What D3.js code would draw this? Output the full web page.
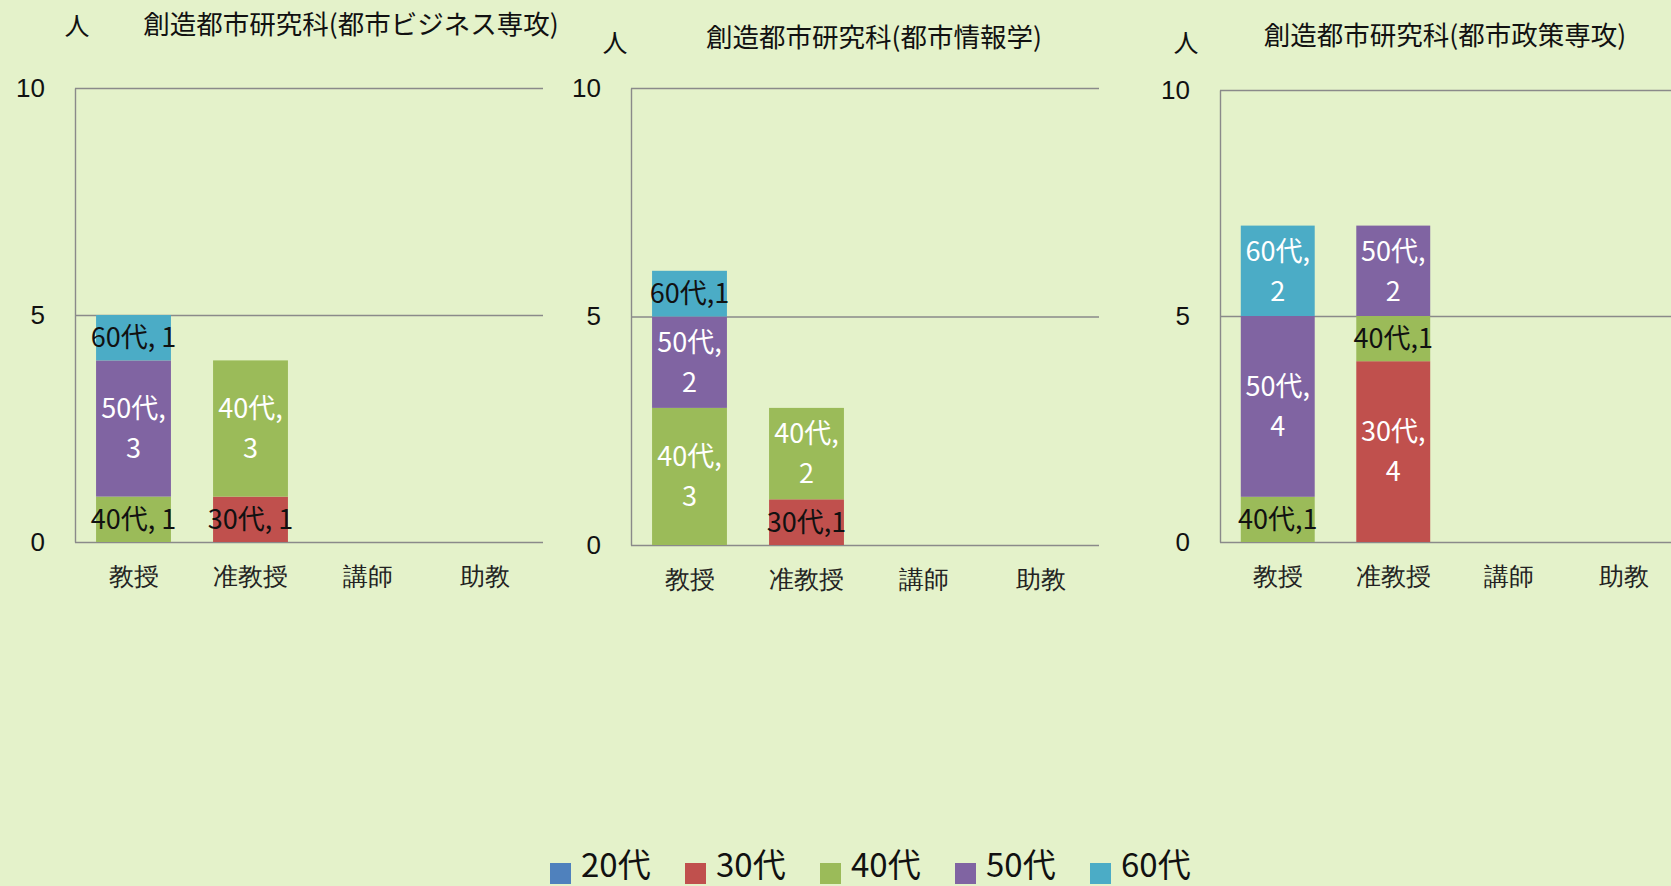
<!DOCTYPE html>
<html>
<head>
<meta charset="utf-8">
<script src="https://cdn.jsdelivr.net/npm/d3@7/dist/d3.min.js"></script>
<style>
  html, body { margin: 0; padding: 0; background: #e4f2ca; overflow: hidden; }
  svg { display: block; font-family: "Noto Sans CJK JP", "Noto Sans", sans-serif; }
  .grid line { stroke: #8a8a8a; stroke-width: 1.4; }
  .grid path { stroke: #8a8a8a; stroke-width: 1.4; }
  .grid text { font-size: 26px; fill: #111; }
  .cats text { font-size: 25px; fill: #222; }
  .title { font-size: 26.5px; fill: #111; }
  .unit { font-size: 25px; fill: #111; }
  .lbl { font-size: 27px; }
  .legend text { font-size: 33px; fill: #111; }
</style>
</head>
<body>
<div id="chart"></div>
<script>
// categories and series
var ranks = ["教授", "准教授", "講師", "助教"];
var ages = ["20代", "30代", "40代", "50代", "60代"];
var colors = ["#4f81bd", "#c0504d", "#9bbb59", "#8064a2", "#4bacc6"];
var yTicks = [0, 5, 10];

var titles = ["創造都市研究科(都市ビジネス専攻)", "創造都市研究科(都市情報学)", "創造都市研究科(都市政策専攻)"];

// counts per rank (rows) by age group (cols 20代..60代)
var businessCounts = [[0, 0, 1, 3, 1], [0, 1, 3, 0, 0], [0, 0, 0, 0, 0], [0, 0, 0, 0, 0]];
var infoCounts     = [[0, 0, 3, 2, 1], [0, 1, 2, 0, 0], [0, 0, 0, 0, 0], [0, 0, 0, 0, 0]];
var policyCounts   = [[0, 0, 1, 4, 2], [0, 4, 1, 2, 0], [0, 0, 0, 0, 0], [0, 0, 0, 0, 0]];
var labelSeps = [", ", ",", ","];

var allCounts = [businessCounts, infoCounts, policyCounts];

// layout of the three panels
var panels = [
  {x0: 75,   w: 468, top: 88, base: 542, titleX: 351,  titleY: 24, unitX: 77,   unitY: 26},
  {x0: 631,  w: 468, top: 88, base: 545, titleX: 874,  titleY: 37, unitX: 615,  unitY: 43},
  {x0: 1220, w: 462, top: 90, base: 542, titleX: 1445, titleY: 35, unitX: 1186, unitY: 43}
];

var svg = d3.select("#chart").append("svg")
  .attr("width", 1671)
  .attr("height", 886);

svg.append("rect").attr("width", 1671).attr("height", 886).attr("fill", "#e4f2ca");

panels.forEach(function(p, i) {
  var counts = allCounts[i];
  var rows = counts.map(function(r, j) {
    var o = {rank: ranks[j]};
    ages.forEach(function(a, k) { o[a] = r[k]; });
    return o;
  });

  var x = d3.scaleBand()
    .domain(ranks)
    .range([p.x0, p.x0 + p.w])
    .paddingInner(0.36)
    .paddingOuter(0.18);

  var y = d3.scaleLinear()
    .domain([0, 10])
    .range([p.base, p.top]);

  // gridlines + left axis
  var g = svg.append("g")
    .attr("class", "grid")
    .attr("transform", `translate(${p.x0},0)`)
    .call(d3.axisLeft(y).tickValues(yTicks).tickSize(-p.w).tickSizeOuter(0).tickPadding(30));
  g.selectAll(".tick line").attr("x1", 0);

  // category labels
  var c = svg.append("g")
    .attr("class", "cats")
    .attr("transform", `translate(0,${p.base})`)
    .call(d3.axisBottom(x).tickSize(0).tickPadding(25));
  c.select(".domain").remove();

  // stacked bars
  var stacked = d3.stack().keys(ages)(rows);
  stacked.forEach(function(layer, k) {
    svg.append("g")
      .attr("fill", colors[k])
      .selectAll("rect")
      .data(layer.filter(function(d) { return d[1] - d[0] > 0; }))
      .enter()
      .append("rect")
      .attr("x", function(d) { return x(d.data.rank); })
      .attr("y", function(d) { return y(d[1]); })
      .attr("width", x.bandwidth())
      .attr("height", function(d) { return y(d[0]) - y(d[1]); });

    // data labels
    layer.forEach(function(d) {
      var v = d[1] - d[0];
      if (v <= 0) return;
      var cx = x(d.data.rank) + x.bandwidth() / 2;
      var cy = y((d[0] + d[1]) / 2);
      var t = svg.append("text")
        .attr("class", "lbl")
        .attr("text-anchor", "middle")
        .attr("x", cx);
      if (v === 1) {
        t.attr("y", cy).attr("dy", "0.36em").attr("fill", "#111")
          .text(ages[k] + labelSeps[i] + v);
      } else {
        t.attr("fill", "#fff");
        t.append("tspan").attr("x", cx).attr("y", cy - 20).attr("dy", "0.36em").text(ages[k] + ",");
        t.append("tspan").attr("x", cx).attr("y", cy + 20).attr("dy", "0.36em").text(v);
      }
    });
  });

  svg.append("text")
    .attr("class", "title")
    .attr("text-anchor", "middle")
    .attr("x", p.titleX)
    .attr("y", p.titleY)
    .attr("dy", "0.36em")
    .text(titles[i]);

  svg.append("text")
    .attr("class", "unit")
    .attr("text-anchor", "middle")
    .attr("x", p.unitX)
    .attr("y", p.unitY)
    .attr("dy", "0.36em")
    .text("人");
});

// legend
var legend = svg.append("g").attr("class", "legend");
var item = legend.selectAll("g")
  .data(ages)
  .enter()
  .append("g")
  .attr("transform", (d, i) => `translate(${550 + i * 135}, 863)`);
item.append("rect")
  .attr("width", 21)
  .attr("height", 21)
  .attr("fill", (d, i) => colors[i]);
item.append("text")
  .attr("x", 31)
  .attr("y", 14)
  .text(d => d);
</script>
</body>
</html>
